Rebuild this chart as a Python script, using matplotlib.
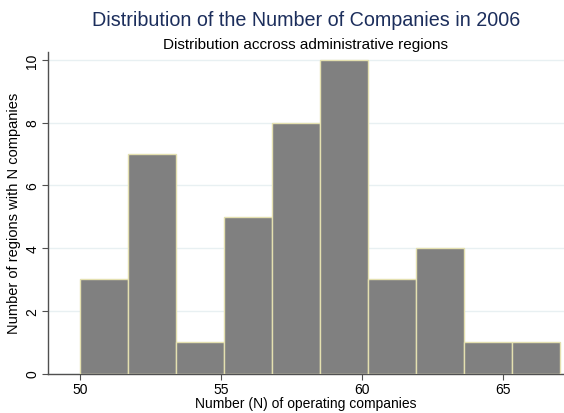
import matplotlib
matplotlib.use("Agg")
import matplotlib.pyplot as plt
import numpy as np

# Data
bin_edges = [50.0, 51.7, 53.4, 55.1, 56.8, 58.5, 60.2, 61.9, 63.6, 65.3, 67.0]
counts = [3, 7, 1, 5, 8, 10, 3, 4, 1, 1]
x_ticks = [50, 55, 60, 65]
y_ticks = [0, 2, 4, 6, 8, 10]
title = "Distribution of the Number of Companies in 2006"
subtitle = "Distribution accross administrative regions"
xlabel = "Number (N) of operating companies"
ylabel = "Number of regions with N companies"

plt.rcParams['font.family'] = ['Liberation Sans', 'DejaVu Sans']

fig = plt.figure(figsize=(5.64, 4.14), dpi=100)
ax = fig.add_axes([47.7/564, 1-374.5/414, 1-47.7/564, (374.5-53)/414])

edges = np.array(bin_edges)
widths = np.diff(edges)
ax.bar(edges[:-1], counts, width=widths, align='edge', color='#808080',
       edgecolor='#e4e0b0', linewidth=1.0, zorder=3)

ax.set_xlim(48.86, 67.15)
ax.set_ylim(0, 10.25)
ax.set_xticks(x_ticks)
ax.set_yticks(y_ticks)
ax.set_yticklabels([str(v) for v in y_ticks], rotation=90, va='center')
ax.tick_params(axis='both', direction='out', length=4, width=0.8, color='#505050',
               labelsize=10, labelcolor='black', pad=2)
ax.grid(axis='y', color='#e8f0f2', linewidth=1.0, zorder=0)
ax.set_axisbelow(True)
for s in ['top', 'right']:
    ax.spines[s].set_visible(False)
for s in ['left', 'bottom']:
    ax.spines[s].set_color('#505050')
    ax.spines[s].set_linewidth(1.0)

ax.set_xlabel(xlabel, fontsize=10, labelpad=0)
ax.set_ylabel(ylabel, fontsize=10.5, labelpad=3)

cx = (47.7 + 564) / 2 / 564
fig.text(cx, 1 - 26/414, title, ha='center', va='baseline', fontsize=14.2, color='#1c2e5c')
fig.text(cx, 1 - 48.5/414, subtitle, ha='center', va='baseline', fontsize=11, color='black')

fig.savefig('out.png', dpi=100, facecolor='white')
